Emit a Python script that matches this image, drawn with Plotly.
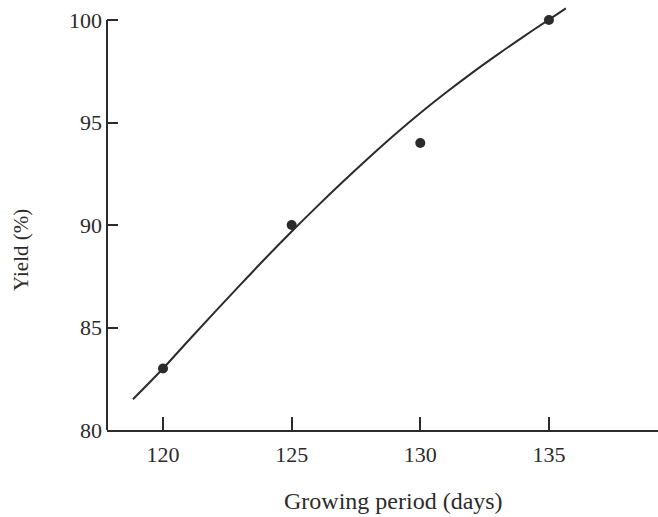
import plotly.graph_objects as go

# Observed data points
days = [120, 125, 130, 135]
yield_pct = [83, 90, 94, 100]

# Fitted curve
curve_days = [118.83, 120.0, 121.0, 122.0, 123.0, 124.0, 125.0, 126.0, 127.0,
              128.0, 129.0, 130.0, 131.0, 132.0, 133.0, 134.0, 135.0, 135.66]
curve_yield = [81.5, 83.0, 84.38, 85.74, 87.08, 88.4, 89.68, 90.92, 92.12,
               93.28, 94.4, 95.46, 96.46, 97.41, 98.31, 99.18, 100.02, 100.57]

x_ticks = [120, 125, 130, 135]
y_ticks = [80, 85, 90, 95, 100]

FONT = "Liberation Serif"
INK = "#2b2b2b"

W, H = 658, 517
ML, MR, MT, MB = 107, 0, 0, 87

fig = go.Figure()
fig.add_trace(go.Scatter(
    x=curve_days, y=curve_yield, mode="lines", line_shape="spline",
    line=dict(color=INK, width=2, smoothing=1.0), hoverinfo="skip", showlegend=False))
fig.add_trace(go.Scatter(
    x=days, y=yield_pct, mode="markers",
    marker=dict(color=INK, size=10), showlegend=False))

# y axis line only spans 80..100
fig.add_shape(type="line", xref="paper", yref="y", x0=0, x1=0, y0=80, y1=100,
              line=dict(color=INK, width=2))

pw = W - ML - MR
ph = H - MT - MB
fig.add_annotation(text="Growing period (days)", xref="paper", yref="paper",
                   x=(393.5 - ML) / pw, y=(ph - 501) / ph, showarrow=False,
                   font=dict(family=FONT, size=24, color=INK),
                   xanchor="center", yanchor="middle")
fig.add_annotation(text="Yield (%)", xref="paper", yref="paper",
                   x=(21 - ML) / pw, y=(ph - 250) / ph, showarrow=False,
                   textangle=-90, font=dict(family=FONT, size=21, color=INK),
                   xanchor="center", yanchor="middle")

fig.update_layout(
    width=W, height=H,
    margin=dict(l=ML, r=MR, t=MT, b=MB, pad=0),
    paper_bgcolor="white", plot_bgcolor="white",
    font=dict(family=FONT, color=INK),
    xaxis=dict(range=[117.822, 139.24], tickvals=x_ticks,
               ticks="inside", ticklen=13, tickwidth=1.5, tickcolor=INK,
               showline=True, linecolor=INK, linewidth=2, showgrid=False,
               zeroline=False, tickfont=dict(family=FONT, size=22, color=INK),
               ticklabelstandoff=4),
    yaxis=dict(range=[80, 100 + 20 / 20.5], tickvals=y_ticks,
               ticks="inside", ticklen=11, tickwidth=1.5, tickcolor=INK,
               showline=False, showgrid=False, zeroline=False,
               tickfont=dict(family=FONT, size=22, color=INK),
               ticklabelstandoff=4),
)

fig.write_html("out.html", config={"displayModeBar": False},
               post_script="document.body.style.margin='0';document.body.style.overflow='hidden';")
